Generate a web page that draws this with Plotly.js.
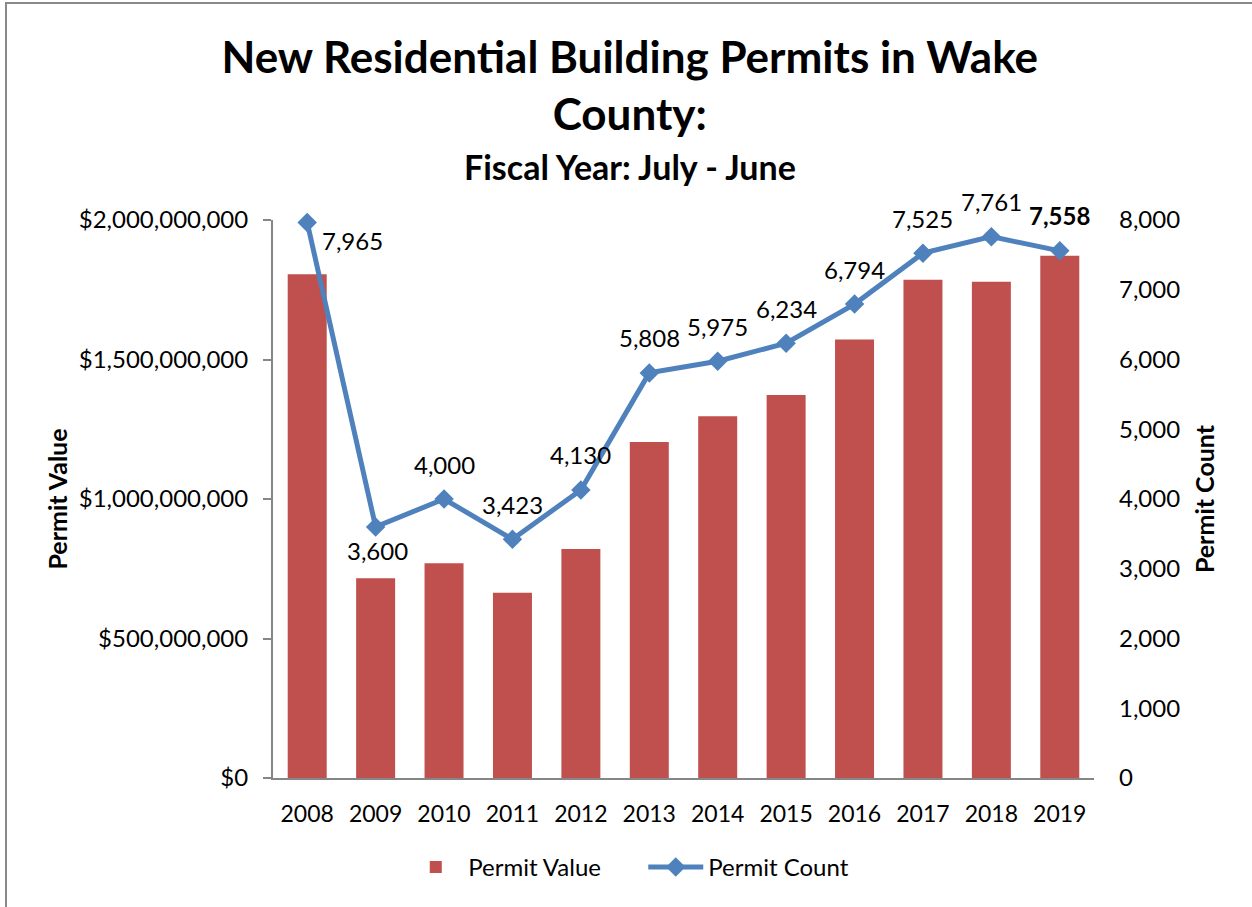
<!DOCTYPE html>
<html>
<head>
<meta charset="utf-8">
<script src="https://cdn.plot.ly/plotly-3.0.1.min.js"></script>
<style>html,body{margin:0;padding:0;background:#fff;}#chart{width:1252px;height:907px;}</style>
</head>
<body>
<div id="chart"></div>
<script>
const years = ['2008','2009','2010','2011','2012','2013','2014','2015','2016','2017','2018','2019'];
const permitValue = [1806000000, 716000000, 770000000, 664000000, 821000000, 1204000000, 1297000000, 1373000000, 1572000000, 1786000000, 1779000000, 1872000000];
const permitCount = [7965, 3600, 4000, 3423, 4130, 5808, 5975, 6234, 6794, 7525, 7761, 7558];
const leftTicks = [0, 500000000, 1000000000, 1500000000, 2000000000];
const leftTickText = ['$0', '$500,000,000', '$1,000,000,000', '$1,500,000,000', '$2,000,000,000'];
const rightTicks = [0, 1000, 2000, 3000, 4000, 5000, 6000, 7000, 8000];
const rightTickText = ['0', '1,000', '2,000', '3,000', '4,000', '5,000', '6,000', '7,000', '8,000'];

const FONT = 'Lato, "Open Sans", sans-serif';
const fmt = v => v.toLocaleString('en-US');

const labelShift = years.map((y, i) => {
  if (i === 0) return {xs: 45, ys: -18};
  if (i === 1) return {xs: 2, ys: -24};
  return {xs: 0, ys: 35};
});

const annotations = permitCount.map((c, i) => ({
  x: i, y: c, xref: 'x', yref: 'y2',
  text: i === permitCount.length - 1 ? '<b>' + fmt(c) + '</b>' : fmt(c),
  showarrow: false, xshift: labelShift[i].xs, yshift: labelShift[i].ys,
  font: {family: FONT, size: 24, color: '#000'}
}));
annotations.push({
  x: 0.435, y: 1.095, xref: 'paper', yref: 'paper', xanchor: 'center', yanchor: 'middle',
  text: '<b>Fiscal Year: July - June</b>', showarrow: false,
  font: {family: FONT, size: 34, color: '#000'}
});

const traces = [
  {type: 'bar', name: 'Permit Value', x: years, y: permitValue,
   marker: {color: '#C0504D'}, yaxis: 'y', hoverinfo: 'x+y'},
  {type: 'scatter', mode: 'lines+markers', name: 'Permit Count', x: years, y: permitCount,
   yaxis: 'y2', line: {color: '#4F81BD', width: 5}, cliponaxis: false,
   marker: {symbol: 'diamond', size: 15, color: '#4F81BD'}}
];

const layout = {
  width: 1252, height: 907,
  margin: {l: 273, r: 158, t: 220, b: 129, pad: 0},
  paper_bgcolor: '#fff', plot_bgcolor: '#fff',
  font: {family: FONT, size: 22, color: '#000'},
  title: {
    text: '<b>New Residential Building Permits in Wake<br>County:</b>',
    font: {family: FONT, size: 44, color: '#000'},
    x: 0.503, xanchor: 'center', xref: 'container',
    y: 0.92, yanchor: 'top', yref: 'container'
  },
  bargap: 0.43,
  showlegend: true,
  legend: {orientation: 'h', x: 0.451, xanchor: 'center', y: -0.16, yanchor: 'middle',
           font: {family: FONT, size: 24}, itemwidth: 55, entrywidth: 170, entrywidthmode: 'pixels',
           traceorder: 'normal'},
  xaxis: {type: 'category', range: [-0.5, 11.5], autorange: false, showgrid: false, showline: true,
          linecolor: '#868686', linewidth: 2,
          ticks: '', tickfont: {family: FONT, size: 23}, ticklabelstandoff: 14, zeroline: false, fixedrange: true},
  yaxis: {range: [0, 2000000000], autorange: false, tickvals: leftTicks, ticktext: leftTickText, showgrid: false,
          showline: true, linecolor: '#868686', linewidth: 2, ticks: 'outside', ticklen: 8, tickcolor: '#868686',
          tickwidth: 2, ticklabelstandoff: 10, zeroline: false,
          tickfont: {family: FONT, size: 24},
          title: {text: '<b>Permit Value</b>', font: {family: FONT, size: 25}, standoff: 4}},
  yaxis2: {range: [0, 8000], autorange: false, overlaying: 'y', side: 'right', tickvals: rightTicks, ticktext: rightTickText,
           showgrid: false, showline: false, ticks: '', ticklabelstandoff: 24, zeroline: false,
           tickfont: {family: FONT, size: 24},
           title: {text: '<b>Permit Count</b>', font: {family: FONT, size: 25}, standoff: 17}},
  annotations: annotations,
  shapes: [{type: 'rect', xref: 'paper', yref: 'paper',
            x0: (6 - 273) / 821, x1: (1300 - 273) / 821, y0: (778 - 950) / 558, y1: (778 - 3) / 558,
            line: {color: '#898989', width: 2}, fillcolor: 'rgba(0,0,0,0)', layer: 'below'}]
};

Plotly.newPlot('chart', traces, layout, {displayModeBar: false, staticPlot: true});
</script>
</body>
</html>
